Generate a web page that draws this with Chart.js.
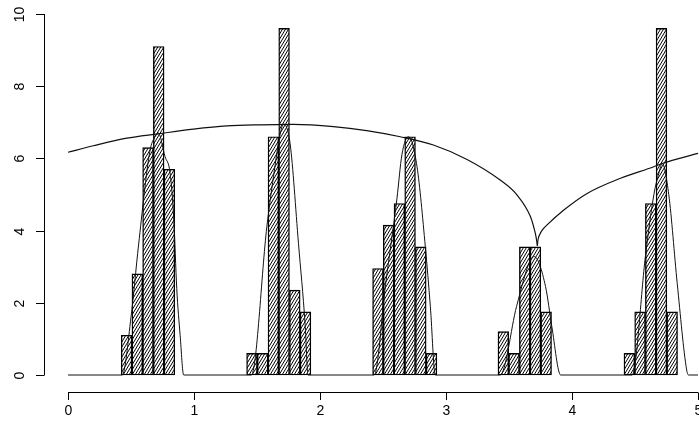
<!DOCTYPE html>
<html>
<head>
<meta charset="utf-8">
<script src="https://cdn.jsdelivr.net/npm/chart.js@4/dist/chart.umd.min.js"></script>
<style>
  html, body { margin: 0; padding: 0; background: #fff; }
  canvas { display: block; }
</style>
</head>
<body>
<canvas id="c" width="699" height="425"></canvas>
<script>
// Histogram bins (centres) and heights for the five clusters
const binCenters = [
  0.465, 0.55, 0.635, 0.72, 0.805,
  1.46, 1.545, 1.63, 1.715, 1.80, 1.885,
  2.46, 2.545, 2.63, 2.715, 2.80, 2.885,
  3.455, 3.54, 3.625, 3.71, 3.795,
  4.455, 4.54, 4.625, 4.71, 4.795
];
const binHeights = [
  1.1, 2.8, 6.3, 9.1, 5.7,
  0.6, 0.6, 6.6, 9.6, 2.35, 1.75,
  2.95, 4.15, 4.75, 6.6, 3.55, 0.6,
  1.2, 0.6, 3.55, 3.55, 1.75,
  0.6, 1.75, 4.75, 9.6, 1.75
];

// Peaked density curve (zero between clusters)
const densityX = [
  0, 0.43, 0.5, 0.56, 0.65, 0.69, 0.717, 0.77, 0.81, 0.84, 0.863, 0.89, 0.918,
  1.455, 1.578, 1.631, 1.68, 1.71, 1.763, 1.829, 1.882, 1.905,
  2.43, 2.52, 2.611, 2.65, 2.703, 2.77, 2.836, 2.876, 2.915,
  3.43, 3.56, 3.67, 3.70, 3.79, 3.84, 3.91,
  4.477, 4.583, 4.65, 4.69, 4.716, 4.768, 4.835, 4.91, 4.925, 5
];
const densityY = [
  0, 0, 1.6, 3.6, 6.2, 6.6, 6.7, 6.05, 5.6, 4.3, 2.4, 1.1, 0,
  0, 4.1, 5.5, 6.6, 6.95, 6.4, 3.65, 1.4, 0,
  0, 2.5, 4.9, 6.1, 6.6, 5.77, 3.55, 1.89, 0,
  0, 1.9, 3.19, 3.28, 2.45, 1.34, 0,
  0, 3.3, 5.0, 5.6, 5.86, 5.0, 2.54, 0.14, 0, 0
];

// Envelope through the peaks, left and right of the cusp
const envLeftX = [0, 0.2, 0.466, 0.715, 0.995, 1.26, 1.525, 1.79, 2.107, 2.37, 2.637, 2.90, 3.167, 3.43, 3.563, 3.67, 3.70, 3.715, 3.725];
const envLeftY = [6.17, 6.35, 6.56, 6.68, 6.81, 6.90, 6.93, 6.94, 6.88, 6.77, 6.60, 6.37, 5.97, 5.40, 4.99, 4.39, 4.05, 3.82, 3.58];
const envRightX = [3.725, 3.73, 3.745, 3.77, 3.80, 3.935, 4.12, 4.385, 4.65, 4.716, 5.0];
const envRightY = [3.58, 3.74, 3.90, 4.04, 4.15, 4.57, 5.03, 5.45, 5.77, 5.86, 6.14];

// Axis ticks
const xTickValues = [0, 1, 2, 3, 4, 5];
const yTickValues = [0, 2, 4, 6, 8, 10];

const pts = (xs, ys) => xs.map((x, i) => ({ x: x, y: ys[i] }));

// Diagonal hatching fill for the bars
function hatchPattern() {
  const t = document.createElement('canvas');
  t.width = 3; t.height = 5;
  const g = t.getContext('2d');
  g.fillStyle = '#fff';
  g.fillRect(0, 0, 3, 5);
  g.strokeStyle = '#000';
  g.lineWidth = 1;
  for (let k = -1; k <= 1; k++) {
    g.beginPath();
    g.moveTo(k * 3, 5);
    g.lineTo(k * 3 + 3, 0);
    g.stroke();
  }
  return g.createPattern(t, 'repeat');
}

// Axes drawn in the classic detached style beside the plot region
const detachedAxes = {
  id: 'detachedAxes',
  afterDraw(chart) {
    const { ctx, chartArea, scales } = chart;
    const xs = scales.x, ys = scales.y;
    ctx.save();
    ctx.strokeStyle = '#000';
    ctx.fillStyle = '#000';
    ctx.lineWidth = 1;
    ctx.font = '14px "Liberation Sans", Arial, sans-serif';

    // y axis
    const ax = chartArea.left - 24;
    const y0 = ys.getPixelForValue(yTickValues[0]);
    const y1 = ys.getPixelForValue(yTickValues[yTickValues.length - 1]);
    ctx.beginPath();
    ctx.moveTo(ax + 0.5, y0);
    ctx.lineTo(ax + 0.5, y1);
    ctx.stroke();
    yTickValues.forEach(v => {
      const py = Math.round(ys.getPixelForValue(v)) + 0.5;
      ctx.beginPath();
      ctx.moveTo(ax + 0.5, py);
      ctx.lineTo(ax - 8, py);
      ctx.stroke();
      ctx.save();
      ctx.translate(ax - 24, py);
      ctx.rotate(-Math.PI / 2);
      ctx.textAlign = 'center';
      ctx.textBaseline = 'middle';
      ctx.fillText(String(v), 0, 0);
      ctx.restore();
    });

    // x axis
    const ay = chartArea.bottom + 17;
    const x0 = xs.getPixelForValue(xTickValues[0]);
    const x1 = xs.getPixelForValue(xTickValues[xTickValues.length - 1]);
    ctx.beginPath();
    ctx.moveTo(x0, ay + 0.5);
    ctx.lineTo(x1, ay + 0.5);
    ctx.stroke();
    xTickValues.forEach(v => {
      const px = Math.round(xs.getPixelForValue(v)) + 0.5;
      ctx.beginPath();
      ctx.moveTo(px, ay + 0.5);
      ctx.lineTo(px, ay + 8);
      ctx.stroke();
      ctx.textAlign = 'center';
      ctx.textBaseline = 'middle';
      ctx.fillText(String(v), px, ay + 19);
    });
    ctx.restore();
  }
};

const lineStyle = {
  type: 'line',
  borderColor: '#111',
  borderWidth: 1.2,
  pointRadius: 0,
  fill: false,
  cubicInterpolationMode: 'monotone',
  clip: false,
  order: 1
};

new Chart(document.getElementById('c'), {
  type: 'bar',
  data: {
    datasets: [
      Object.assign({ label: 'envelope-left', data: pts(envLeftX, envLeftY) }, lineStyle),
      Object.assign({ label: 'envelope-right', data: pts(envRightX, envRightY) }, lineStyle),
      Object.assign({ label: 'density', data: pts(densityX, densityY) }, lineStyle, { borderWidth: 1 }),
      {
        type: 'bar',
        label: 'histogram',
        data: pts(binCenters, binHeights),
        backgroundColor: hatchPattern(),
        borderColor: '#000',
        borderWidth: 1.4,
        borderSkipped: false,
        barPercentage: 1,
        categoryPercentage: 1,
        clip: false,
        order: 2
      }
    ]
  },
  options: {
    responsive: false,
    devicePixelRatio: 1,
    animation: false,
    layout: { padding: { left: 68, right: 1, top: 14, bottom: 50 } },
    plugins: { legend: { display: false }, tooltip: { enabled: false } },
    scales: {
      x: { type: 'linear', min: 0, max: 5, offset: false, display: false },
      y: { type: 'linear', min: 0, max: 10, display: false }
    }
  },
  plugins: [detachedAxes]
});
</script>
</body>
</html>
